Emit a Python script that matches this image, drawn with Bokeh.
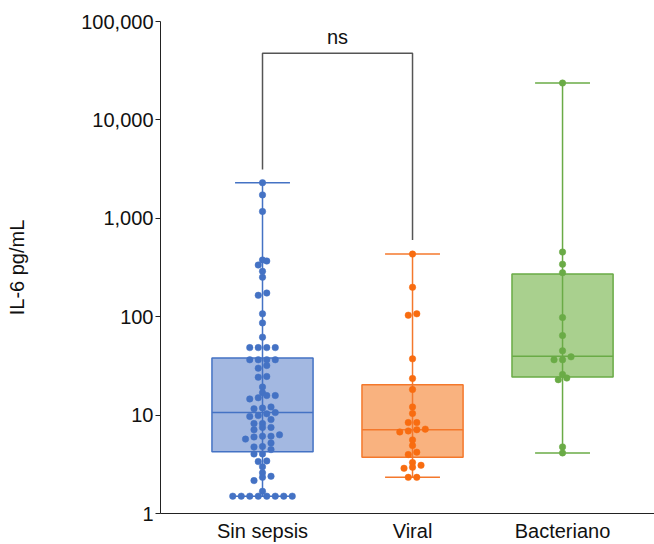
import numpy as np
from bokeh.plotting import figure
from bokeh.models import FixedTicker, Range1d, NumeralTickFormatter
from bokeh.embed import file_html
from bokeh.resources import INLINE
from bokeh.core.properties import value

categories = ["Sin sepsis", "Viral", "Bacteriano"]
positions = [1, 2, 3]

sin_sepsis = [2300, 1730, 1175, 377, 368, 335, 289, 252, 174, 165, 107, 86.5, 62,
              48.5, 48.5, 48.5, 48.5, 36.5, 36.5, 36.5, 36.5, 31.9, 30.0,
              24.3, 24.7, 19.3, 16.9, 14.6, 15.8, 15.0, 15.8,
              11.8, 11.6, 12.1, 10.6, 10.3, 9.7, 9.9, 8.2, 8.2, 9.0,
              7.1, 7.5, 7.5, 6.0, 5.7, 6.1, 6.1, 6.3, 4.75, 4.8, 5.2, 4.46,
              4.03, 4.03, 3.37, 3.42, 2.98, 2.39, 2.59, 2.16, 2.33, 1.68,
              1.5, 1.5, 1.5, 1.5, 1.5, 1.5, 1.5, 1.5]
viral = [433, 199, 107, 103.5, 37.3, 23.6, 18.2, 12.1, 10.4, 8.4, 8.4,
         7.1, 7.2, 6.9, 6.74, 5.6, 4.9, 3.97, 4.2, 2.95, 2.88, 3.09, 3.29,
         2.33, 2.33]
bacteriano = [23700, 454, 341, 280, 98, 64.3, 45, 36.5, 36.5, 39.1,
              25.9, 23.8, 22.9, 4.75, 4.13]
groups = [sin_sepsis, viral, bacteriano]

# box statistics
q1 = [4.25, 3.72, 24.4]
median = [10.6, 7.1, 39.7]
q3 = [38, 20.3, 272]
whisker_low = [1.5, 2.33, 4.13]
whisker_high = [2300, 433, 23700]

y_ticks = [1, 10, 100, 1000, 10000, 100000]

# significance bracket between Sin sepsis and Viral
ns_bracket_x = [1, 1, 2, 2]
ns_bracket_y = [3130, 47700, 47700, 601]
ns_label = "ns"
ns_label_y = 69600

line_colors = ["#4472c4", "#f4782c", "#6aab46"]
dot_colors = ["#4472c4", "#f86c10", "#6aab46"]
fill_colors = ["#a3b8e1", "#f9b27f", "#a9d08e"]

FONT = "Liberation Sans"
PX_PER_DEC = 98.6
PX_PER_UNIT = 150.0


def swarm(vals, step_px=8.5, thr_px=4.5):
    vals = np.asarray(vals, float)
    order = np.argsort(vals, kind="stable")
    ypx = np.log10(vals) * PX_PER_DEC
    offs = np.zeros(len(vals))
    i = 0
    while i < len(order):
        j = i
        while j + 1 < len(order) and ypx[order[j + 1]] - ypx[order[i]] < thr_px:
            j += 1
        n = j - i + 1
        for k in range(n):
            offs[order[i + k]] = (k - (n - 1) / 2) * step_px / PX_PER_UNIT
        i = j + 1
    return offs


p = figure(width=654, height=544, x_range=Range1d(0.32, 3.613),
           y_range=Range1d(1, 100000), y_axis_type="log",
           min_border_left=160, min_border_right=0, min_border_top=21,
           min_border_bottom=30, output_backend="svg", toolbar_location=None)
p.xgrid.visible = False
p.ygrid.visible = False
p.outline_line_color = None
p.background_fill_color = "white"

half_box = 0.337
half_cap = 0.183

for i, x in enumerate(positions):
    p.quad(left=[x - half_box], right=[x + half_box], bottom=[q1[i]], top=[q3[i]],
           fill_color=fill_colors[i], line_color=line_colors[i], line_width=1.5)
    p.segment(x0=[x], y0=[whisker_low[i]], x1=[x], y1=[whisker_high[i]],
              line_color=line_colors[i], line_width=1.5)
    p.segment(x0=[x - half_box], y0=[median[i]], x1=[x + half_box], y1=[median[i]],
              line_color=line_colors[i], line_width=1.5)
    p.segment(x0=[x - half_cap, x - half_cap], y0=[whisker_low[i], whisker_high[i]],
              x1=[x + half_cap, x + half_cap], y1=[whisker_low[i], whisker_high[i]],
              line_color=line_colors[i], line_width=1.5)
    vals = groups[i]
    xs = x + swarm(vals)
    p.scatter(xs, vals, size=6.5, fill_color=dot_colors[i], line_color=dot_colors[i],
              line_width=0.5)

p.line(ns_bracket_x, ns_bracket_y, line_color="#555555", line_width=1.5)
p.text(x=[1.5], y=[ns_label_y], text=[ns_label], text_align="center",
       text_baseline="middle", text_font=value(FONT), text_font_size="20px",
       text_color="#111111")

# y axis
ya = p.yaxis[0]
ya.ticker = FixedTicker(ticks=y_ticks, minor_ticks=[])
ya.formatter = NumeralTickFormatter(format="0,0")
ya.major_tick_out = 5
ya.major_tick_in = 0
ya.minor_tick_line_color = None
ya.axis_line_color = "#222222"
ya.major_tick_line_color = "#222222"
ya.major_label_text_font = FONT
ya.major_label_text_font_size = "20px"
ya.major_label_text_color = "#111111"
ya.major_label_standoff = 2
ya.axis_label = "IL-6 pg/mL"
ya.axis_label_text_font = FONT
ya.axis_label_text_font_size = "20px"
ya.axis_label_text_font_style = "normal"
ya.axis_label_text_color = "#111111"
ya.axis_label_standoff = 50

# x axis
xa = p.xaxis[0]
xa.ticker = FixedTicker(ticks=positions, minor_ticks=[])
xa.major_label_overrides = {pos: cat for pos, cat in zip(positions, categories)}
xa.major_tick_line_color = None
xa.minor_tick_line_color = None
xa.major_tick_out = 0
xa.major_tick_in = 0
xa.axis_line_color = "#222222"
xa.major_label_text_font = FONT
xa.major_label_text_font_size = "20px"
xa.major_label_text_color = "#111111"
xa.major_label_standoff = 6

open("out.html", "w").write(file_html(p, INLINE))
